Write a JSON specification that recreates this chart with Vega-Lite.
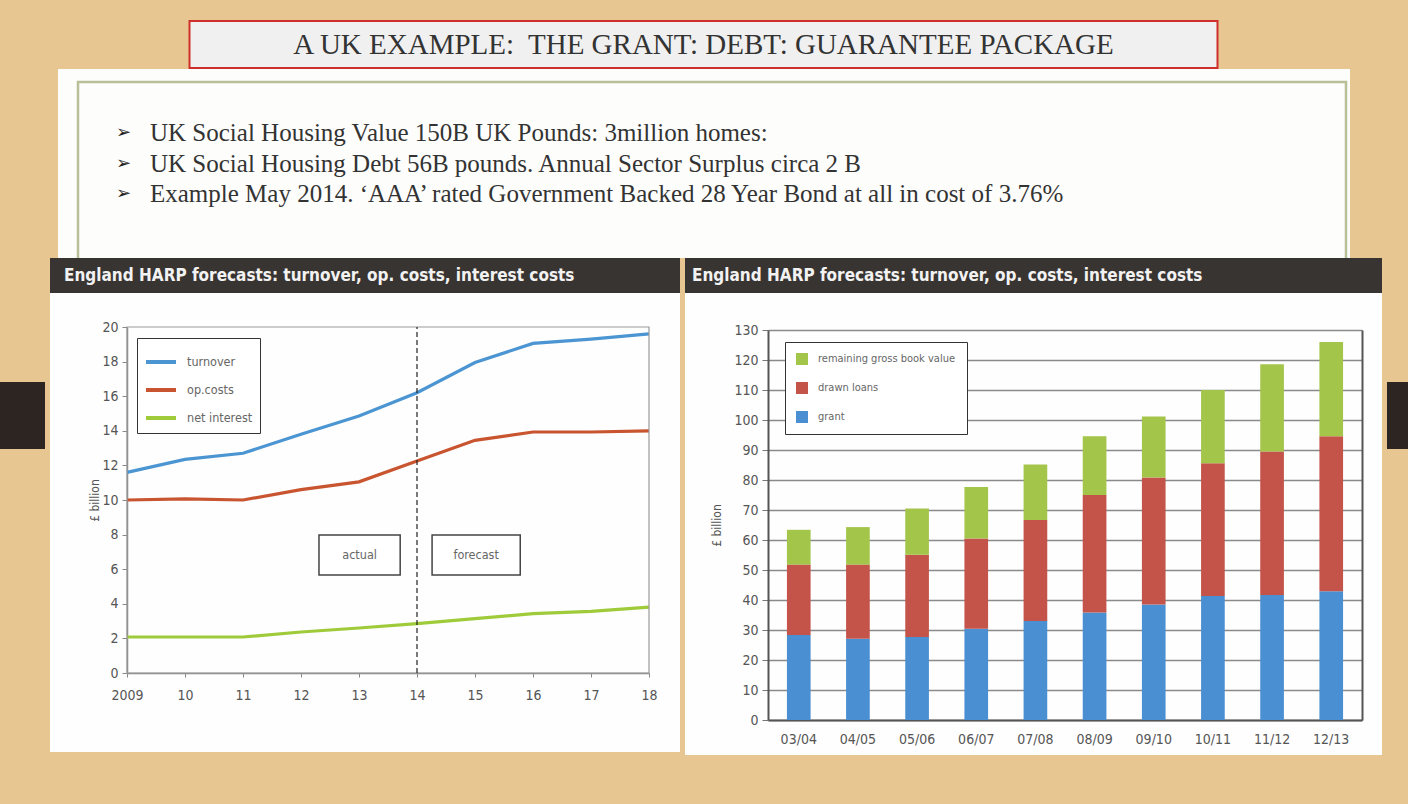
{
"$schema": "https://vega.github.io/schema/vega-lite/v6.json",
"background": "#e8c691",
"padding": {"left": 0, "top": 20, "right": 0, "bottom": 51},
"spacing": 0,
"center": true,
"resolve": {"scale": {"color": "independent"}, "legend": {"color": "independent"}},
"config": {
  "view": {"stroke": null},
  "font": "Liberation Sans Narrow, DejaVu Sans Condensed, Liberation Sans, sans-serif",
  "axis": {"labelColor": "#555", "titleColor": "#555", "titleFontWeight": "normal", "labelFontSize": 13, "titleFontSize": 12},
  "legend": {"labelColor": "#666"}
},
"vconcat": [
  {
    "width": 1028, "height": 47,
    "view": {"fill": "#f0f0f0", "stroke": "#cf2f2a", "strokeWidth": 2},
    "data": {"values": [{"t": "A UK EXAMPLE:\u00a0 THE GRANT: DEBT: GUARANTEE PACKAGE"}]},
    "mark": {"type": "text", "font": "Liberation Serif", "fontSize": 29, "color": "#333", "baseline": "middle", "align": "center"},
    "encoding": {"text": {"field": "t"}}
  },
  {
    "width": 1292, "height": 189,
    "view": {"fill": "#fdfdfb"},
    "resolve": {"scale": {"y": "independent"}},
    "layer": [
      {
        "data": {"values": [{}]},
        "mark": {"type": "rect", "fillOpacity": 0, "stroke": "#b7c096", "strokeWidth": 2.5, "clip": true},
        "encoding": {
          "x": {"datum": 0, "type": "quantitative", "scale": {"domain": [0, 1], "range": [20, 1288]}, "axis": null},
          "x2": {"datum": 1},
          "y": {"datum": 0, "type": "quantitative", "scale": {"domain": [0, 1], "range": [13, 200]}, "axis": null},
          "y2": {"datum": 1}
        }
      },
      {
        "data": {"values": [
          {"line": 1, "text": "UK Social Housing Value 150B UK Pounds: 3million homes:"},
          {"line": 2, "text": "UK Social Housing Debt 56B pounds. Annual Sector Surplus circa 2 B"},
          {"line": 3, "text": "Example May 2014. \u2018AAA\u2019 rated Government Backed 28 Year Bond at all in cost of 3.76%"}
        ]},
        "mark": {"type": "text", "align": "left", "baseline": "middle", "font": "DejaVu Sans", "fontSize": 18, "color": "#222", "dx": 38},
        "encoding": {
          "x": {"datum": 0, "type": "quantitative"},
          "y": {"field": "line", "type": "ordinal", "scale": {"type": "point", "range": [64, 125], "padding": 0}, "axis": null},
          "text": {"value": "\u27a2"}
        }
      },
      {
        "data": {"values": [
          {"line": 1, "text": "UK Social Housing Value 150B UK Pounds: 3million homes:"},
          {"line": 2, "text": "UK Social Housing Debt 56B pounds. Annual Sector Surplus circa 2 B"},
          {"line": 3, "text": "Example May 2014. \u2018AAA\u2019 rated Government Backed 28 Year Bond at all in cost of 3.76%"}
        ]},
        "mark": {"type": "text", "align": "left", "baseline": "middle", "font": "Liberation Serif", "fontSize": 25, "color": "#333", "dx": 72},
        "encoding": {
          "x": {"datum": 0, "type": "quantitative"},
          "y": {"field": "line", "type": "ordinal", "scale": {"type": "point", "range": [64, 125], "padding": 0}, "axis": null},
          "text": {"field": "text"}
        }
      }
    ]
  },
  {
    "spacing": 5,
    "resolve": {"scale": {"color": "independent"}, "legend": {"color": "independent"}},
    "hconcat": [
      {
        "width": 45, "height": 497,
        "data": {"values": [{}]},
        "mark": {"type": "rect", "color": "#2d2521"},
        "encoding": {
          "y": {"datum": 0, "type": "quantitative", "scale": {"domain": [0, 1], "range": [124, 191]}, "axis": null},
          "y2": {"datum": 1}
        }
      },
      {
        "spacing": 0,
        "vconcat": [
          {
            "width": 630, "height": 35,
            "view": {"fill": "#383431"},
            "data": {"values": [{"t": "England HARP forecasts: turnover, op. costs, interest costs"}]},
            "mark": {"type": "text", "align": "left", "baseline": "middle", "fontWeight": "bold", "fontSize": 17, "color": "#f2f2f2", "dx": 14},
            "encoding": {
              "x": {"datum": 0, "type": "quantitative", "scale": {"domain": [0, 1]}, "axis": null},
              "text": {"field": "t"}
            }
          },
          {
            "width": 630, "height": 459,
            "view": {"fill": "#fefefe"},
            "layer": [
              {
                "data": {"values": [
                  {"year": 2009, "series": "turnover", "value": 11.6},
                  {"year": 2010, "series": "turnover", "value": 12.35},
                  {"year": 2011, "series": "turnover", "value": 12.7},
                  {"year": 2012, "series": "turnover", "value": 13.8},
                  {"year": 2013, "series": "turnover", "value": 14.85},
                  {"year": 2014, "series": "turnover", "value": 16.2},
                  {"year": 2015, "series": "turnover", "value": 17.95},
                  {"year": 2016, "series": "turnover", "value": 19.05},
                  {"year": 2017, "series": "turnover", "value": 19.3},
                  {"year": 2018, "series": "turnover", "value": 19.6},
                  {"year": 2009, "series": "op.costs", "value": 10.0},
                  {"year": 2010, "series": "op.costs", "value": 10.07},
                  {"year": 2011, "series": "op.costs", "value": 10.0},
                  {"year": 2012, "series": "op.costs", "value": 10.6},
                  {"year": 2013, "series": "op.costs", "value": 11.05},
                  {"year": 2014, "series": "op.costs", "value": 12.25},
                  {"year": 2015, "series": "op.costs", "value": 13.45},
                  {"year": 2016, "series": "op.costs", "value": 13.93},
                  {"year": 2017, "series": "op.costs", "value": 13.93},
                  {"year": 2018, "series": "op.costs", "value": 14.0},
                  {"year": 2009, "series": "net interest", "value": 2.08},
                  {"year": 2010, "series": "net interest", "value": 2.08},
                  {"year": 2011, "series": "net interest", "value": 2.08},
                  {"year": 2012, "series": "net interest", "value": 2.37},
                  {"year": 2013, "series": "net interest", "value": 2.6},
                  {"year": 2014, "series": "net interest", "value": 2.85},
                  {"year": 2015, "series": "net interest", "value": 3.14},
                  {"year": 2016, "series": "net interest", "value": 3.43},
                  {"year": 2017, "series": "net interest", "value": 3.56},
                  {"year": 2018, "series": "net interest", "value": 3.81}
                ]},
                "mark": {"type": "line", "strokeWidth": 3.2},
                "encoding": {
                  "x": {"field": "year", "type": "quantitative",
                    "scale": {"domain": [2009, 2018], "range": [77, 599], "nice": false, "zero": false},
                    "axis": {"orient": "bottom", "offset": -79, "values": [2009, 2010, 2011, 2012, 2013, 2014, 2015, 2016, 2017, 2018],
                      "labelExpr": "datum.value == 2009 ? '2009' : substring(toString(datum.value), 2)",
                      "title": null, "grid": false, "domainColor": "#888", "domainWidth": 1.5, "tickColor": "#888", "tickSize": 4,
                      "labelPadding": 11, "labelFlush": false, "labelFontSize": 14}},
                  "y": {"field": "value", "type": "quantitative",
                    "scale": {"domain": [0, 20], "range": [380, 34], "nice": false},
                    "axis": {"orient": "left", "offset": -77, "values": [0, 2, 4, 6, 8, 10, 12, 14, 16, 18, 20],
                      "title": "\u00a3 billion", "titlePadding": 0, "grid": false, "domainColor": "#888", "domainWidth": 1.5,
                      "tickColor": "#888", "tickSize": 5, "labelPadding": 4, "labelFontSize": 14}},
                  "color": {"field": "series", "type": "nominal",
                    "scale": {"domain": ["turnover", "op.costs", "net interest"], "range": ["#4b95d2", "#c8552f", "#9fcb3a"]},
                    "legend": {"orient": "none", "legendX": 87, "legendY": 80, "title": null, "symbolType": "stroke",
                      "symbolStrokeWidth": 4, "symbolSize": 900, "strokeColor": "#333", "fillColor": "#ffffff", "padding": 7,
                      "labelFontSize": 12.5, "rowPadding": 3, "labelOffset": 9}}
                }
              },
              {
                "data": {"values": [{}]},
                "mark": {"type": "rect", "fillOpacity": 0, "stroke": "#999", "strokeWidth": 1.2},
                "encoding": {"x": {"datum": 2009}, "x2": {"datum": 2018}, "y": {"datum": 0}, "y2": {"datum": 20}}
              },
              {
                "data": {"values": [{}]},
                "mark": {"type": "rule", "strokeDash": [5, 3], "color": "#222", "strokeWidth": 1.2},
                "encoding": {"x": {"datum": 2014}, "y": {"datum": 0}, "y2": {"datum": 20}}
              },
              {
                "data": {"values": [{"label": "actual"}]},
                "layer": [
                  {"mark": {"type": "rect", "fill": "#ffffff", "stroke": "#444", "strokeWidth": 1.5},
                   "encoding": {"x": {"datum": 2012.31}, "x2": {"datum": 2013.71}, "y": {"datum": 5.66}, "y2": {"datum": 7.98}}},
                  {"mark": {"type": "text", "fontSize": 12.5, "color": "#666", "baseline": "middle"},
                   "encoding": {"x": {"datum": 2013.01}, "y": {"datum": 6.82}, "text": {"field": "label"}}}
                ]
              },
              {
                "data": {"values": [{"label": "forecast"}]},
                "layer": [
                  {"mark": {"type": "rect", "fill": "#ffffff", "stroke": "#444", "strokeWidth": 1.5},
                   "encoding": {"x": {"datum": 2014.26}, "x2": {"datum": 2015.78}, "y": {"datum": 5.66}, "y2": {"datum": 7.98}}},
                  {"mark": {"type": "text", "fontSize": 12.5, "color": "#666", "baseline": "middle"},
                   "encoding": {"x": {"datum": 2015.02}, "y": {"datum": 6.82}, "text": {"field": "label"}}}
                ]
              }
            ]
          }
        ]
      },
      {
        "spacing": 0,
        "vconcat": [
          {
            "width": 697, "height": 35,
            "view": {"fill": "#383431"},
            "data": {"values": [{"t": "England HARP forecasts: turnover, op. costs, interest costs"}]},
            "mark": {"type": "text", "align": "left", "baseline": "middle", "fontWeight": "bold", "fontSize": 17, "color": "#f2f2f2", "dx": 7},
            "encoding": {
              "x": {"datum": 0, "type": "quantitative", "scale": {"domain": [0, 1]}, "axis": null},
              "text": {"field": "t"}
            }
          },
          {
            "width": 697, "height": 462,
            "view": {"fill": "#fefefe"},
            "resolve": {"axis": {"y": "independent"}},
            "layer": [
              {
                "data": {"values": [
                  {"period": "03/04", "part": "grant", "stack": 1, "value": 28.3},
                  {"period": "03/04", "part": "drawn loans", "stack": 2, "value": 23.5},
                  {"period": "03/04", "part": "remaining gross book value", "stack": 3, "value": 11.6},
                  {"period": "04/05", "part": "grant", "stack": 1, "value": 27.1},
                  {"period": "04/05", "part": "drawn loans", "stack": 2, "value": 24.7},
                  {"period": "04/05", "part": "remaining gross book value", "stack": 3, "value": 12.5},
                  {"period": "05/06", "part": "grant", "stack": 1, "value": 27.7},
                  {"period": "05/06", "part": "drawn loans", "stack": 2, "value": 27.4},
                  {"period": "05/06", "part": "remaining gross book value", "stack": 3, "value": 15.4},
                  {"period": "06/07", "part": "grant", "stack": 1, "value": 30.4},
                  {"period": "06/07", "part": "drawn loans", "stack": 2, "value": 30.1},
                  {"period": "06/07", "part": "remaining gross book value", "stack": 3, "value": 17.2},
                  {"period": "07/08", "part": "grant", "stack": 1, "value": 33.0},
                  {"period": "07/08", "part": "drawn loans", "stack": 2, "value": 33.7},
                  {"period": "07/08", "part": "remaining gross book value", "stack": 3, "value": 18.5},
                  {"period": "08/09", "part": "grant", "stack": 1, "value": 35.8},
                  {"period": "08/09", "part": "drawn loans", "stack": 2, "value": 39.2},
                  {"period": "08/09", "part": "remaining gross book value", "stack": 3, "value": 19.6},
                  {"period": "09/10", "part": "grant", "stack": 1, "value": 38.5},
                  {"period": "09/10", "part": "drawn loans", "stack": 2, "value": 42.3},
                  {"period": "09/10", "part": "remaining gross book value", "stack": 3, "value": 20.4},
                  {"period": "10/11", "part": "grant", "stack": 1, "value": 41.3},
                  {"period": "10/11", "part": "drawn loans", "stack": 2, "value": 44.3},
                  {"period": "10/11", "part": "remaining gross book value", "stack": 3, "value": 24.4},
                  {"period": "11/12", "part": "grant", "stack": 1, "value": 41.7},
                  {"period": "11/12", "part": "drawn loans", "stack": 2, "value": 47.8},
                  {"period": "11/12", "part": "remaining gross book value", "stack": 3, "value": 29.1},
                  {"period": "12/13", "part": "grant", "stack": 1, "value": 42.9},
                  {"period": "12/13", "part": "drawn loans", "stack": 2, "value": 51.7},
                  {"period": "12/13", "part": "remaining gross book value", "stack": 3, "value": 31.4}
                ]},
                "mark": {"type": "bar"},
                "encoding": {
                  "x": {"field": "period", "type": "ordinal", "sort": null,
                    "scale": {"range": [83, 677], "paddingInner": 0.6, "paddingOuter": 0.32},
                    "axis": {"orient": "bottom", "offset": -35, "title": null, "labelAngle": 0, "ticks": false,
                      "domainColor": "#555", "domainWidth": 2, "labelPadding": 12, "labelFontSize": 14}},
                  "y": {"field": "value", "type": "quantitative", "stack": "zero",
                    "scale": {"domain": [0, 130], "range": [427, 37], "nice": false},
                    "axis": {"orient": "left", "offset": -83, "values": [0, 10, 20, 30, 40, 50, 60, 70, 80, 90, 100, 110, 120, 130],
                      "grid": true, "gridColor": "#8a8a8a", "gridWidth": 1.5, "domainColor": "#555", "domainWidth": 2,
                      "tickColor": "#777", "tickSize": 6, "labelPadding": 4, "labelFontSize": 14,
                      "title": "\u00a3 billion", "titlePadding": 10}},
                  "color": {"field": "part", "type": "nominal",
                    "scale": {"domain": ["remaining gross book value", "drawn loans", "grant"], "range": ["#a3c54a", "#c4544a", "#4a8fd2"]},
                    "legend": {"orient": "none", "legendX": 100, "legendY": 84, "title": null, "symbolType": "square",
                      "symbolSize": 144, "symbolStrokeWidth": 0, "strokeColor": "#333", "fillColor": "#ffffff", "padding": 11,
                      "labelFontSize": 11, "rowPadding": 17, "labelOffset": 10}},
                  "order": {"field": "stack", "type": "quantitative"}
                }
              },
              {
                "data": {"values": [{}]},
                "mark": {"type": "rule", "opacity": 0},
                "encoding": {
                  "y": {"datum": 0, "type": "quantitative",
                    "axis": {"orient": "right", "offset": -20, "labels": false, "ticks": false, "grid": false, "title": null,
                      "domainColor": "#555", "domainWidth": 2}}
                }
              }
            ]
          }
        ]
      },
      {
        "width": 21, "height": 497,
        "data": {"values": [{}]},
        "mark": {"type": "rect", "color": "#2d2521"},
        "encoding": {
          "y": {"datum": 0, "type": "quantitative", "scale": {"domain": [0, 1], "range": [124, 191]}, "axis": null},
          "y2": {"datum": 1}
        }
      }
    ]
  }
]
}
